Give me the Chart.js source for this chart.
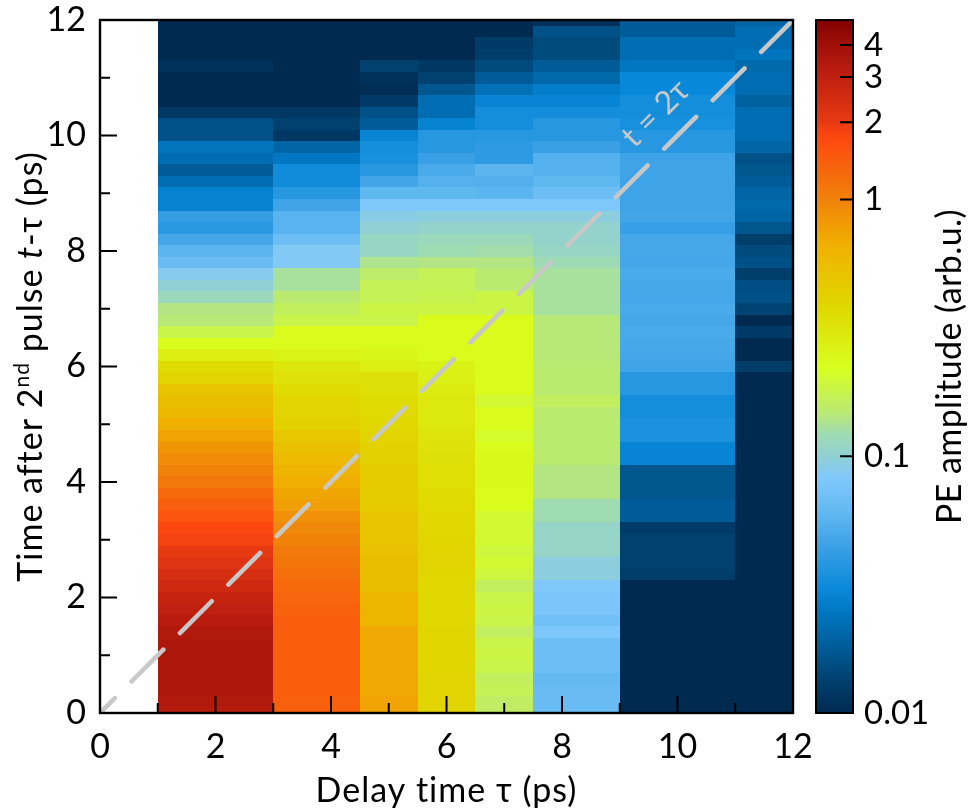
<!DOCTYPE html>
<html><head><meta charset="utf-8">
<script src="https://cdn.jsdelivr.net/npm/chart.js@4.4.1/dist/chart.umd.min.js"></script>
<style>html,body{margin:0;padding:0;background:#fff;}canvas{display:block;}</style>
</head><body>
<canvas id="c" width="969" height="812"></canvas>
<script>
// ---- data ----
const tauEdges = [1, 3, 4.5, 5.5, 6.5, 7.5, 9, 11, 12];   // column boundaries (ps)
const rowStep = 0.2;                                       // row spacing of t-tau (ps), rows centred at 0,0.2,...,12
const amp_tau1_3 = [3.3,3.4,3.6,3.6,3.6,3.6,3.5,3.4,3.2,3.0, 2.8,2.6,2.4,2.2,2.0,1.85,1.75,1.55,1.4,1.25, 1.1,1.0,0.92,0.85,0.75,0.67,0.6,0.55,0.5,0.4, 0.36,0.28,0.23,0.18,0.145,0.14,0.115,0.1,0.088,0.066, 0.058,0.048,0.039,0.042,0.028,0.028,0.022,0.018,0.022,0.024, 0.016,0.016,0.012,0.01,0.01,0.01,0.011,0.01,0.01,0.01, 0.01];
const amp_tau3_45 = [1.38,1.38,1.4,1.4,1.4,1.4,1.4,1.4,1.4,1.35, 1.3,1.25,1.18,1.12,1.08,1.0,0.95,0.88,0.78,0.73, 0.68,0.63,0.58,0.53,0.48,0.42,0.4,0.4,0.36,0.33, 0.31,0.26,0.23,0.23,0.18,0.165,0.15,0.13,0.13,0.085, 0.085,0.068,0.056,0.056,0.046,0.038,0.032,0.032,0.025,0.02, 0.012,0.0135,0.012,0.01,0.01,0.01,0.01,0.01,0.01,0.01, 0.01];
const amp_tau45_55 = [0.75,0.75,0.72,0.72,0.72,0.72,0.72,0.72,0.62,0.62, 0.62,0.56,0.56,0.56,0.53,0.5,0.5,0.5,0.46,0.46, 0.46,0.46,0.42,0.42,0.4,0.38,0.37,0.36,0.34,0.34, 0.28,0.25,0.23,0.23,0.18,0.185,0.17,0.17,0.155,0.135, 0.11,0.11,0.1,0.092,0.08,0.06,0.047,0.038,0.034,0.033, 0.029,0.018,0.016,0.0125,0.0105,0.011,0.0135,0.01,0.01,0.01, 0.01];
const amp_tau55_65 = [0.4,0.4,0.4,0.4,0.39,0.39,0.39,0.39,0.38,0.38, 0.38,0.38,0.39,0.4,0.4,0.39,0.38,0.38,0.37,0.36, 0.35,0.35,0.34,0.33,0.32,0.3,0.3,0.3,0.29,0.27, 0.26,0.23,0.23,0.23,0.23,0.185,0.175,0.17,0.17,0.14, 0.122,0.115,0.105,0.095,0.08,0.06,0.055,0.05,0.044,0.038, 0.038,0.028,0.022,0.022,0.017,0.0135,0.012,0.01,0.01,0.01, 0.01];
const amp_tau65_75 = [0.16,0.16,0.17,0.165,0.18,0.185,0.18,0.165,0.18,0.185, 0.18,0.165,0.19,0.2,0.19,0.2,0.2,0.2,0.23,0.23, 0.24,0.24,0.24,0.23,0.21,0.23,0.23,0.2,0.23,0.23, 0.23,0.23,0.23,0.23,0.23,0.185,0.185,0.15,0.15,0.14, 0.125,0.115,0.105,0.095,0.08,0.058,0.054,0.058,0.04,0.04, 0.038,0.033,0.033,0.029,0.023,0.018,0.015,0.013,0.0125,0.01, 0.01];
const amp_tau75_9 = [0.065,0.065,0.065,0.062,0.068,0.068,0.068,0.08,0.07,0.078, 0.078,0.083,0.095,0.095,0.108,0.108,0.108,0.122,0.122,0.14, 0.14,0.14,0.15,0.15,0.15,0.15,0.15,0.165,0.15,0.15, 0.15,0.145,0.145,0.145,0.145,0.13,0.13,0.13,0.13,0.12, 0.11,0.105,0.105,0.095,0.08,0.068,0.06,0.055,0.055,0.044, 0.038,0.038,0.033,0.029,0.027,0.021,0.018,0.015,0.015,0.016, 0.011];
const amp_tau9_11 = [0.01,0.01,0.01,0.01,0.01,0.01,0.01,0.01,0.01,0.01, 0.01,0.01,0.0128,0.0135,0.0135,0.0135,0.0125,0.018,0.018,0.017, 0.017,0.017,0.029,0.029,0.035,0.035,0.033,0.033,0.038,0.038, 0.046,0.048,0.049,0.05,0.048,0.05,0.048,0.049,0.05,0.048, 0.049,0.048,0.043,0.047,0.046,0.046,0.046,0.046,0.046,0.038, 0.038,0.034,0.033,0.033,0.03,0.03,0.025,0.022,0.022,0.018, 0.018];
const amp_tau11_12 = [0.01,0.01,0.01,0.01,0.01,0.01,0.01,0.01,0.01,0.01, 0.01,0.01,0.01,0.01,0.01,0.01,0.01,0.01,0.01,0.01, 0.01,0.01,0.01,0.01,0.01,0.01,0.01,0.01,0.01,0.01, 0.0128,0.01,0.01,0.0125,0.01,0.014,0.016,0.0155,0.013,0.016, 0.015,0.0128,0.017,0.02,0.021,0.02,0.018,0.017,0.016,0.02, 0.022,0.022,0.022,0.019,0.022,0.022,0.021,0.024,0.022,0.022, 0.02];
const columns = [amp_tau1_3, amp_tau3_45, amp_tau45_55, amp_tau55_65, amp_tau65_75, amp_tau75_9, amp_tau9_11, amp_tau11_12];
const diagonal = [{x: 12, y: 12}, {x: 0, y: 0}];          // t = 2tau guide line
const xTickValues = [0,1,2,3,4,5,6,7,8,9,10,11,12];
const yTickValues = [0,1,2,3,4,5,6,7,8,9,10,11,12];
const xLabelValues = [0,2,4,6,8,10,12];
const yLabelValues = [0,2,4,6,8,10,12];
const cbTickValues = [0.01, 0.1, 1, 2, 3, 4];
const cbTickLabels = ['0.01', '0.1', '1', '2', '3', '4'];
const cbRange = [0.01, 5];

// ---- colour map (log scale) ----
const cmapStops = [[0.01,'#002a50'],[0.0134,'#00406e'],[0.018,'#005c98'],[0.0246,'#0076c0'],[0.03,'#0888d8'],[0.044,'#3aa0e6'],[0.06,'#60b8f0'],[0.082,'#80c8fc'],[0.1,'#90d0d4'],[0.123,'#a0dcb0'],[0.145,'#b8e878'],[0.22,'#d8ff20'],[0.38,'#e0d800'],[0.67,'#f0b000'],[1.0,'#f0820a'],[1.73,'#ff4810'],[2.0,'#e83a12'],[3.0,'#c02010'],[4.0,'#a01008'],[5.0,'#800000']];
function hex(c){return [parseInt(c.slice(1,3),16),parseInt(c.slice(3,5),16),parseInt(c.slice(5,7),16)];}
function cmap(v){
  const lv = Math.log10(Math.min(Math.max(v, cbRange[0]), cbRange[1]));
  for (let i = 0; i < cmapStops.length - 1; i++) {
    const a = Math.log10(cmapStops[i][0]), b = Math.log10(cmapStops[i+1][0]);
    if (lv <= b || i === cmapStops.length - 2) {
      const t = Math.max(0, Math.min(1, (lv - a) / (b - a)));
      const ca = hex(cmapStops[i][1]), cb = hex(cmapStops[i+1][1]);
      return 'rgb(' + ca.map((x, j) => Math.round(x + (cb[j] - x) * t)).join(',') + ')';
    }
  }
}

const FONT = 'Lato';
const TICK_SIZE = 34;
const TITLE_SIZE = 34;
function zeroPad(s) { s.paddingTop = 0; s.paddingBottom = 0; s.paddingLeft = 0; s.paddingRight = 0; }

const heatmapPlugin = {
  id: 'heatmap',
  beforeDatasetsDraw(chart) {
    const {ctx} = chart;
    const xs = chart.scales.x, ys = chart.scales.y;
    ctx.save();
    columns.forEach((vals, c) => {
      const x0 = Math.round(xs.getPixelForValue(tauEdges[c]));
      const x1 = Math.round(xs.getPixelForValue(tauEdges[c + 1]));
      vals.forEach((v, k) => {
        const lo = Math.max(0, k * rowStep - rowStep / 2);
        const hi = Math.min(12, k * rowStep + rowStep / 2);
        const yTop = Math.round(ys.getPixelForValue(hi));
        const yBot = Math.round(ys.getPixelForValue(lo));
        ctx.fillStyle = cmap(v);
        ctx.fillRect(x0, yTop, x1 - x0, yBot - yTop);
      });
    });
    ctx.restore();
  },
  afterDatasetsDraw(chart) {
    const {ctx, chartArea: ca} = chart;
    const xs = chart.scales.x, ys = chart.scales.y;
    ctx.save();
    ctx.fillStyle = '#c8c8c8';
    ctx.font = '32px ' + FONT;
    ctx.textAlign = 'center';
    ctx.textBaseline = 'middle';
    ctx.translate(xs.getPixelForValue(9.62), ys.getPixelForValue(10.38));
    ctx.rotate(-Math.PI / 4);
    ctx.fillText('t = 2τ', 0, 0);
    ctx.restore();

    ctx.save();
    ctx.strokeStyle = '#000';
    ctx.lineWidth = 2;
    ctx.beginPath();
    xTickValues.forEach(v => {
      if (v === 0 || v === 12) return;
      const px = xs.getPixelForValue(v);
      const len = v % 2 === 0 ? 17 : 10;
      ctx.moveTo(px, ca.bottom); ctx.lineTo(px, ca.bottom - len);
    });
    yTickValues.forEach(v => {
      if (v === 0 || v === 12) return;
      const py = ys.getPixelForValue(v);
      const len = v % 2 === 0 ? 17 : 10;
      ctx.moveTo(ca.left, py); ctx.lineTo(ca.left + len, py);
    });
    ctx.stroke();
    ctx.lineWidth = 2.4;
    ctx.strokeRect(ca.left, ca.top, ca.right - ca.left, ca.bottom - ca.top);
    ctx.restore();
  },
  afterDraw(chart) {
    const {ctx, chartArea: ca} = chart;
    const cs = chart.scales.cb;
    ctx.save();
    const left = 816, right = 853;
    const yT = cs.getPixelForValue(cbRange[1]), yB = cs.getPixelForValue(cbRange[0]);
    const g = ctx.createLinearGradient(0, yB, 0, yT);
    const span = Math.log10(cbRange[1]) - Math.log10(cbRange[0]);
    cmapStops.forEach(([v, c]) => g.addColorStop((Math.log10(v) - Math.log10(cbRange[0])) / span, c));
    ctx.fillStyle = g;
    ctx.fillRect(left, yT, right - left, yB - yT);
    ctx.strokeStyle = '#000';
    ctx.lineWidth = 2;
    ctx.beginPath();
    cbTickValues.forEach(v => {
      if (v === cbRange[0]) return;
      const py = cs.getPixelForValue(v);
      ctx.moveTo(right, py); ctx.lineTo(right - 13, py);
    });
    ctx.stroke();
    ctx.strokeRect(left, yT, right - left, yB - yT);

    ctx.fillStyle = '#000';
    ctx.textBaseline = 'alphabetic';
    const midY = (ca.top + ca.bottom) / 2;

    // colour bar title
    ctx.save();
    ctx.font = TITLE_SIZE + 'px ' + FONT;
    ctx.letterSpacing = '0.4px';
    ctx.textAlign = 'center';
    ctx.translate(961, midY);
    ctx.rotate(-Math.PI / 2);
    ctx.fillText('PE amplitude (arb.u.)', 0, 0);
    ctx.restore();

    // x axis title
    ctx.save();
    ctx.font = TITLE_SIZE + 'px ' + FONT;
    ctx.letterSpacing = '1px';
    ctx.textAlign = 'center';
    ctx.fillText('Delay time τ (ps)', (ca.left + ca.right) / 2, 802);
    ctx.restore();

    // y axis title with superscript and italic
    ctx.save();
    ctx.letterSpacing = '1px';
    const segs = [
      {t: 'Time after 2', f: TITLE_SIZE + 'px ' + FONT, dy: 0},
      {t: 'nd', f: '21px ' + FONT, dy: -13},
      {t: ' pulse ', f: TITLE_SIZE + 'px ' + FONT, dy: 0},
      {t: 't', f: 'italic ' + TITLE_SIZE + 'px ' + FONT, dy: 0},
      {t: '-τ (ps)', f: TITLE_SIZE + 'px ' + FONT, dy: 0}
    ];
    let total = 0;
    segs.forEach(s => { ctx.font = s.f; s.w = ctx.measureText(s.t).width; total += s.w; });
    ctx.translate(42, midY);
    ctx.rotate(-Math.PI / 2);
    ctx.textAlign = 'left';
    let x = -total / 2;
    segs.forEach(s => { ctx.font = s.f; ctx.fillText(s.t, x, s.dy); x += s.w; });
    ctx.restore();
    ctx.restore();
  }
};

new Chart(document.getElementById('c'), {
  type: 'scatter',
  data: {
    datasets: [{
      type: 'line',
      data: diagonal,
      borderColor: '#c8c8c8',
      borderWidth: 4.5,
      borderDash: [45, 23.5],
      borderCapStyle: 'round',
      pointRadius: 0,
      fill: false,
      tension: 0
    }]
  },
  options: {
    responsive: false,
    animation: false,
    devicePixelRatio: 1,
    layout: {padding: {top: 20, left: 0, right: 0, bottom: 0}},
    plugins: {legend: {display: false}, tooltip: {enabled: false}},
    scales: {
      x: {
        type: 'linear', min: 0, max: 12, position: 'bottom',
        afterBuildTicks: s => { s.ticks = xLabelValues.map(v => ({value: v})); },
        ticks: {font: {family: FONT, size: TICK_SIZE}, color: '#000', padding: 14, maxRotation: 0, autoSkip: false},
        grid: {display: false, drawTicks: false},
        border: {display: false},
        afterFit: s => { s.height = 99; zeroPad(s); }
      },
      y: {
        type: 'linear', min: 0, max: 12, position: 'left',
        afterBuildTicks: s => { s.ticks = yLabelValues.map(v => ({value: v})); },
        ticks: {font: {family: FONT, size: TICK_SIZE}, color: '#000', padding: 14, autoSkip: false},
        grid: {display: false, drawTicks: false},
        border: {display: false},
        afterFit: s => { s.width = 100; zeroPad(s); }
      },
      cb: {
        type: 'logarithmic', position: 'right', min: cbRange[0], max: cbRange[1],
        afterBuildTicks: s => { s.ticks = cbTickValues.map(v => ({value: v})); },
        ticks: {font: {family: FONT, size: 33}, color: '#000', padding: 71, autoSkip: false,
                callback: (v, i) => cbTickLabels[i]},
        grid: {display: false, drawTicks: false},
        border: {display: false},
        afterFit: s => { s.width = 176; zeroPad(s); }
      }
    }
  },
  plugins: [heatmapPlugin]
});
</script>
</body></html>
